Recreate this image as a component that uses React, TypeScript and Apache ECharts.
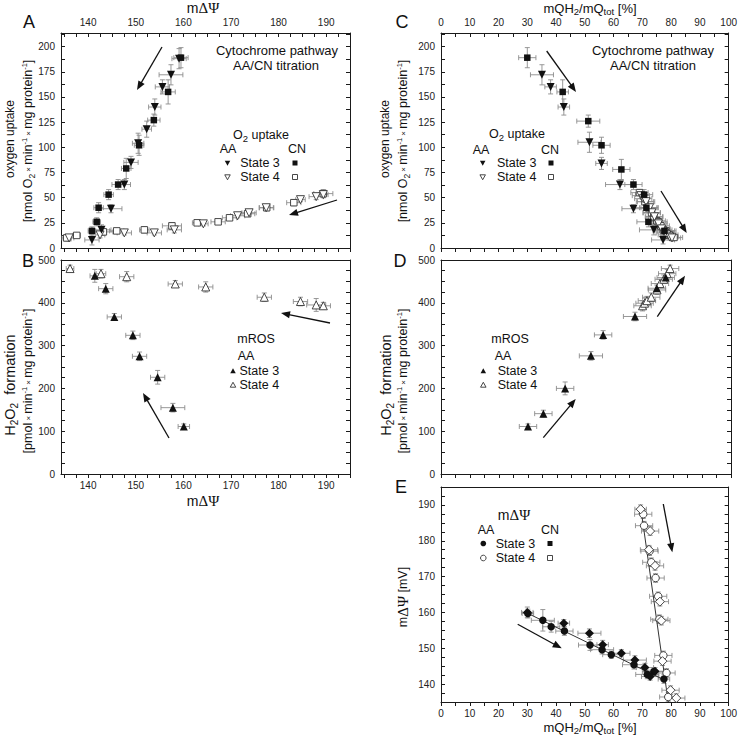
import React, { useEffect, useRef } from "react";
import * as echarts from "echarts";

const FONT = "'Liberation Sans', Arial, Helvetica, sans-serif";
const SERIF = "'Liberation Serif', 'Times New Roman', serif";

// ---------- tick labels ----------
const psiLabels = [140, 150, 160, 170, 180, 190];
const qLabels = [0, 10, 20, 30, 40, 50, 60, 70, 80, 90, 100];
const o2Labels = [0, 25, 50, 75, 100, 125, 150, 175, 200];
const h2o2Labels = [0, 100, 200, 300, 400, 500];
const psiYLabels = [140, 150, 160, 170, 180, 190];

// ---------- data: [x, y, xErr, yErr] ----------
// Panel A: mΔΨ (x) vs O2 uptake (y)
const aAA3 = [
  [159.1, 188, 1.5, 10], [157.4, 172, 2.5, 10], [155.6, 160, 1.5, 7], [154.0, 140, 1.3, 8],
  [152.3, 118, 1.0, 8], [150.5, 104, 1.2, 10], [149.0, 85, 1.5, 6], [147.6, 63, 1.3, 5],
  [144.8, 39, 2.3, 4], [142.8, 18, 2.0, 5], [140.8, 8, 1.5, 5],
];
const aCN3 = [
  [159.5, 189, 1.5, 10], [156.8, 155, 1.5, 12], [153.8, 127, 1.3, 6], [150.7, 102, 1.0, 10],
  [148.0, 79, 1.0, 10], [146.3, 63, 1.3, 5], [144.3, 53, 1.0, 5], [142.2, 40, 1.0, 5],
  [141.8, 26, 0.8, 4], [140.8, 17, 0.8, 4],
];
const aAA4 = [
  [136.0, 10, 1.0, 3], [142.5, 13, 1.0, 3], [147.6, 15, 1.5, 2], [153.9, 15, 1.5, 2],
  [158.1, 18, 1.5, 3], [164.2, 24, 1.0, 2], [171.4, 32, 1.5, 2], [173.8, 35, 1.5, 2],
  [177.4, 40, 1.5, 2], [184.6, 48, 1.0, 2], [187.9, 51, 1.5, 3], [189.4, 53, 1.0, 3],
];
const aCN4 = [
  [135.5, 10, 1.0, 3], [137.6, 12.5, 0.8, 2], [143.2, 16, 2.0, 3], [146.0, 17, 1.5, 2],
  [151.8, 18, 1.0, 3], [157.6, 22, 2.0, 3], [162.9, 25, 1.0, 2], [167.3, 26, 1.5, 2],
  [169.7, 30, 1.5, 2], [173.5, 34, 1.5, 2], [177.5, 40, 1.5, 3], [183.2, 45, 1.5, 3],
  [189.4, 54, 2.0, 4],
];
// Panel B: mΔΨ (x) vs H2O2 formation (y)
const bAA3 = [
  [141.4, 463, 1.0, 15], [143.7, 433, 1.5, 12], [145.5, 367, 1.5, 8], [149.4, 324, 1.5, 10],
  [150.8, 275, 1.5, 10], [154.6, 226, 1.5, 16], [157.8, 155, 2.5, 10], [160.1, 111, 1.2, 6],
];
const bAA4 = [
  [136.2, 480, 0.8, 8], [142.7, 468, 1.0, 10], [148.1, 461, 1.5, 12], [158.3, 444, 1.5, 8],
  [164.7, 437, 1.5, 12], [177.0, 413, 1.5, 10], [184.6, 403, 1.5, 10], [187.9, 395, 2.0, 15],
  [189.4, 393, 1.5, 8],
];
// Panel C: mQH2/mQtot (x) vs O2 uptake (y)
const cAA3 = [
  [35.1, 172, 4, 10], [38.1, 160, 2, 7], [42.7, 140, 2, 8], [51.6, 105, 4, 10],
  [55.8, 84, 2, 6], [62.2, 63, 5, 5], [66.9, 39, 4, 4], [74.0, 18, 5, 5], [77.2, 8, 4, 4],
];
const cCN3 = [
  [30.0, 189, 3, 10], [42.3, 155, 2, 12], [51.2, 126, 4, 6], [55.8, 102, 3, 8],
  [62.7, 78, 3, 10], [66.9, 63, 3, 5], [70.6, 53, 3, 5], [71.4, 40, 4, 5],
  [72.1, 26, 4, 5], [77.7, 17, 4, 4],
];
const cAA4 = [
  [69.5, 52, 3, 3], [70.3, 49, 3, 3], [71.3, 46, 3, 3], [72.5, 40, 3, 3], [73.3, 35, 3, 3],
  [74.2, 31, 3, 3], [75.6, 24, 3, 3], [76.7, 19, 3, 3], [77.8, 15, 3, 3], [78.5, 13, 3, 3],
  [79.5, 11, 3, 3], [80.3, 10, 3, 3],
];
const cCN4 = [
  [69.0, 55, 3, 3], [70.9, 46, 3, 3], [72.0, 40, 3, 3], [73.2, 35, 3, 3], [74.0, 31, 3, 3],
  [75.0, 27, 3, 3], [75.6, 26, 3, 3], [76.4, 22, 3, 3], [77.3, 18, 3, 3], [78.2, 17, 3, 3],
  [79.4, 13, 3, 3], [81.0, 10.5, 3, 3],
];
// Panel D: mQH2/mQtot (x) vs H2O2 formation (y)
const dAA3 = [
  [30.0, 111, 3, 6], [35.3, 141, 3, 8], [42.8, 200, 3, 15], [51.7, 276, 4, 10],
  [55.9, 325, 3, 10], [66.9, 368, 4, 10], [74.4, 434, 3, 10], [77.5, 459, 3, 8],
];
const dAA4 = [
  [69.5, 393, 3, 12], [70.2, 399, 3, 12], [71.0, 405, 3, 10], [72.5, 413, 3, 10],
  [74.5, 430, 3, 10], [75.5, 445, 3, 10], [76.8, 455, 3, 10], [78.0, 468, 3, 10], [79.0, 480, 3, 8],
];
// Panel E: mQH2/mQtot (x) vs mΔΨ (y)
const eAA3 = [
  [30.2, 159.7, 2, 1.2], [35.4, 157.8, 4, 3], [38.3, 156.0, 3, 1.5], [42.9, 154.8, 3, 1.2],
  [51.8, 150.9, 4, 1.5], [56.0, 149.6, 4, 1.2], [59.2, 148.2, 3, 1], [67.1, 145.4, 4, 1.2],
  [71.7, 142.7, 4, 1.2], [74.0, 143.5, 4, 1], [77.5, 141.4, 2, 1.2],
];
const eCN3 = [
  [30.0, 160.0, 2, 1.5], [42.7, 157.0, 2, 1], [51.6, 154.2, 4, 1.2], [56.2, 151.0, 2, 1.2],
  [62.7, 148.6, 3, 1], [67.4, 146.7, 4, 1.2], [70.9, 144.6, 3, 1.2], [72.7, 142.1, 3, 1],
  [74.4, 143.6, 3, 1],
];
const eAA4 = [
  [70.3, 187.4, 3, 1.2], [70.6, 184.2, 3, 1.2], [72.5, 177.1, 3, 1.2], [73.1, 174.0, 3, 1.2],
  [74.6, 169.6, 3, 1.2], [75.5, 164.5, 3, 1.2], [75.9, 158.1, 3, 1.2], [77.3, 148.0, 3, 1.2],
  [78.4, 143.1, 3, 1.2], [79.0, 136.4, 3, 1.2],
];
const eCN4 = [
  [69.4, 188.8, 2, 1.2], [72.7, 182.7, 3, 1.2], [72.3, 177.5, 3, 1.2], [74.4, 173.0, 3, 1.2],
  [76.1, 163.0, 3, 1.2], [76.6, 157.7, 3, 1.2], [77.0, 146.4, 3, 1.2], [79.8, 138.3, 3, 1.2],
  [81.8, 136.1, 3, 1.2],
];
const eFit3 = [[29.5, 160.0], [78.0, 141.0]];
const eFit4 = [[69.3, 190.0], [79.0, 135.0]];

// ---------- helpers ----------
function steps(a: number, b: number, s: number) {
  const r: number[] = [];
  for (let v = a; v <= b + 1e-9; v += s) r.push(+v.toFixed(3));
  return r;
}
const AX = "#1a1a1a";

function axis(gridIndex: number, pos: string, min: number, max: number, ticks: number[] | null,
  labels: number[] | null, inside: boolean) {
  return {
    type: "value", gridIndex, position: pos, min, max,
    axisLine: { show: true, onZero: false, lineStyle: { color: AX, width: 1 } },
    axisTick: ticks ? { show: true, inside, length: 4, customValues: ticks, lineStyle: { color: AX, width: 1 } } : { show: false },
    axisLabel: labels
      ? { show: true, customValues: labels, color: "#222", fontSize: 10, fontFamily: FONT, margin: 6 }
      : { show: false },
    splitLine: { show: false },
    minorTick: { show: false },
  };
}

function errSeries(data: number[][], idx: number) {
  return {
    type: "custom", xAxisIndex: idx, yAxisIndex: idx, data, z: 1, silent: true, clip: true,
    encode: { x: 0, y: 1 },
    renderItem: (_p: any, api: any) => {
      const x = api.value(0), y = api.value(1), ex = api.value(2), ey = api.value(3);
      const c = api.coord([x, y]);
      const l = api.coord([x - ex, y]), r = api.coord([x + ex, y]);
      const t = api.coord([x, y + ey]), b = api.coord([x, y - ey]);
      const cap = 2.5;
      const st = { stroke: "#8c8c8c", lineWidth: 0.9, fill: null };
      const ln = (x1: number, y1: number, x2: number, y2: number) => ({ type: "line", shape: { x1, y1, x2, y2 }, style: st });
      return {
        type: "group",
        children: [
          ln(l[0], c[1], r[0], c[1]), ln(l[0], c[1] - cap, l[0], c[1] + cap), ln(r[0], c[1] - cap, r[0], c[1] + cap),
          ln(c[0], t[1], c[0], b[1]), ln(c[0] - cap, t[1], c[0] + cap, t[1]), ln(c[0] - cap, b[1], c[0] + cap, b[1]),
        ],
      };
    },
  };
}

function sc(data: number[][], idx: number, symbol: string, filled: boolean, size: number, rotate = 0) {
  return {
    type: "scatter", xAxisIndex: idx, yAxisIndex: idx, z: 3, silent: true,
    data: data.map((d) => [d[0], d[1]]),
    symbol, symbolSize: size, symbolRotate: rotate,
    itemStyle: filled ? { color: "#111", opacity: 1 } : { color: "#fff", borderColor: "#333", borderWidth: 0.9, opacity: 1 },
  };
}

const RICH: any = {
  t: { fontSize: 12.5, fontFamily: FONT, fill: "#111", lineHeight: 16, verticalAlign: "middle" },
  T: { fontSize: 12, fontFamily: FONT, fill: "#111", lineHeight: 16, verticalAlign: "middle" },
  H: { fontSize: 14.5, fontFamily: FONT, fill: "#111", lineHeight: 18, verticalAlign: "middle" },
  Hs: { fontSize: 10, fontFamily: FONT, fill: "#111", lineHeight: 15, verticalAlign: "bottom" },
  q: { fontSize: 13, fontFamily: FONT, fill: "#111", lineHeight: 16, verticalAlign: "middle" },
  sub: { fontSize: 8.5, fontFamily: FONT, fill: "#111", lineHeight: 13, verticalAlign: "bottom" },
  sup: { fontSize: 7.5, fontFamily: FONT, fill: "#111", lineHeight: 13, verticalAlign: "top" },
  x: { fontSize: 8, fontFamily: FONT, fill: "#111", lineHeight: 16, verticalAlign: "middle" },
  m: { fontSize: 14, fontFamily: FONT, fill: "#111", lineHeight: 17, verticalAlign: "middle" },
  g: { fontSize: 15, fontFamily: SERIF, fill: "#111", lineHeight: 17, verticalAlign: "middle" },
  sm: { fontSize: 9.5, fontFamily: FONT, fill: "#111", lineHeight: 14, verticalAlign: "bottom" },
};

function txt(x: number, y: number, text: string, size = 12.5, rot = 0, align = "center") {
  return {
    type: "text", x, y, rotation: rot, z: 20, silent: true,
    style: { text, font: `${size}px ${FONT}`, fill: "#111", align, verticalAlign: "middle" },
  };
}
function rtxt(x: number, y: number, text: string, rot = 0) {
  return {
    type: "text", x, y, rotation: rot, z: 20, silent: true,
    style: { text, rich: RICH, fill: "#111", font: `12.5px ${FONT}`, align: "center", verticalAlign: "middle" },
  };
}
function arrow(x1: number, y1: number, x2: number, y2: number) {
  const dx = x2 - x1, dy = y2 - y1, L = Math.hypot(dx, dy), ux = dx / L, uy = dy / L;
  const hl = 9, hw = 3.6;
  const bx = x2 - ux * hl, by = y2 - uy * hl;
  return [
    { type: "line", z: 20, silent: true, shape: { x1, y1, x2: bx + ux, y2: by + uy }, style: { stroke: "#111", lineWidth: 1.3 } },
    { type: "polygon", z: 20, silent: true, shape: { points: [[x2, y2], [bx - uy * hw, by + ux * hw], [bx + uy * hw, by - ux * hw]] }, style: { fill: "#111" } },
  ];
}
function mk(kind: string, x: number, y: number, filled: boolean) {
  const st = filled ? { fill: "#111" } : { fill: "#fff", stroke: "#333", lineWidth: 0.9 };
  const s = 5.5;
  if (kind === "down") return { type: "polygon", z: 20, silent: true, shape: { points: [[x - s / 2, y - s * 0.4], [x + s / 2, y - s * 0.4], [x, y + s * 0.5]] }, style: st };
  if (kind === "up") return { type: "polygon", z: 20, silent: true, shape: { points: [[x - s / 2, y + s * 0.4], [x + s / 2, y + s * 0.4], [x, y - s * 0.5]] }, style: st };
  if (kind === "sq") return { type: "rect", z: 20, silent: true, shape: { x: x - 2.5, y: y - 2.5, width: 5, height: 5 }, style: st };
  return { type: "circle", z: 20, silent: true, shape: { cx: x, cy: y, r: 2.8 }, style: st };
}

const PSI = "{m|m}{g|ΔΨ}";
const QAX = "{q|mQH}{sm|2}{q|/mQ}{sm|tot}{q| [%]}";
const O2UNIT = "{t|[nmol O}{sub|2}{x| × }{t|min}{sup|-1}{x| × }{t|mg protein}{sup|-1}{t|]}";
const H2UNIT = "{t|[pmol}{x| × }{t|min}{sup|-1}{x| × }{t|mg protein}{sup|-1}{t|]}";
const H2T = "{H|H}{Hs|2}{H|O}{Hs|2}{H|  formation}";
const O2LEG = "{t|O}{sm|2}{t| uptake}";

export default function App() {
  const ref = useRef<HTMLDivElement>(null);
  useEffect(() => {
    if (!ref.current) return;
    const chart = echarts.init(ref.current, null, { renderer: "svg" });

    const psiTicks = steps(135, 195, 2.5);
    const qTicks = steps(0, 100, 5);
    const o2Ticks = steps(0, 212.5, 12.5);
    const h2Ticks = steps(0, 500, 25);
    const psiYTicks = steps(135, 195, 2.5);

    const grids = [
      { left: 61, top: 33, width: 289, height: 215 },
      { left: 61, top: 260, width: 289, height: 214 },
      { left: 441, top: 33, width: 290, height: 215 },
      { left: 441, top: 260, width: 290, height: 214 },
      { left: 441, top: 487, width: 290, height: 215 },
    ];
    const PMIN = 134.3, PMAX = 195.0;
    const xAxis = [
      axis(0, "bottom", PMIN, PMAX, psiTicks, null, false), axis(0, "top", PMIN, PMAX, psiTicks, psiLabels, true),
      axis(1, "bottom", PMIN, PMAX, psiTicks, psiLabels, false), axis(1, "top", PMIN, PMAX, null, null, true),
      axis(2, "bottom", 0, 100, qTicks, null, false), axis(2, "top", 0, 100, qTicks, qLabels, true),
      axis(3, "bottom", 0, 100, qTicks, null, false), axis(3, "top", 0, 100, null, null, true),
      axis(4, "bottom", 0, 100, qTicks, qLabels, false), axis(4, "top", 0, 100, null, null, true),
    ];
    const yAxis = [
      axis(0, "left", 0, 213.5, o2Ticks, o2Labels, true), axis(0, "right", 0, 213.5, o2Ticks, null, true),
      axis(1, "left", 0, 500, h2Ticks, h2o2Labels, true), axis(1, "right", 0, 500, h2Ticks, null, true),
      axis(2, "left", 0, 213.5, o2Ticks, o2Labels, true), axis(2, "right", 0, 213.5, o2Ticks, null, true),
      axis(3, "left", 0, 500, h2Ticks, h2o2Labels, true), axis(3, "right", 0, 500, h2Ticks, null, true),
      axis(4, "left", 135, 195, psiYTicks, psiYLabels, true), axis(4, "right", 135, 195, psiYTicks, null, true),
    ];
    const series: any[] = [
      errSeries(aCN4, 0), errSeries(aAA4, 0), errSeries(aCN3, 0), errSeries(aAA3, 0),
      sc(aCN4, 0, "rect", false, 6.5), sc(aAA4, 0, "triangle", false, 8, 180),
      sc(aCN3, 0, "rect", true, 6.5), sc(aAA3, 0, "triangle", true, 8, 180),

      errSeries(bAA4, 2), errSeries(bAA3, 2),
      sc(bAA4, 2, "triangle", false, 8), sc(bAA3, 2, "triangle", true, 8),

      errSeries(cCN4, 4), errSeries(cAA4, 4), errSeries(cCN3, 4), errSeries(cAA3, 4),
      sc(cCN4, 4, "rect", false, 6.5), sc(cAA4, 4, "triangle", false, 8, 180),
      sc(cCN3, 4, "rect", true, 6.5), sc(cAA3, 4, "triangle", true, 8, 180),

      errSeries(dAA4, 6), errSeries(dAA3, 6),
      sc(dAA4, 6, "triangle", false, 8), sc(dAA3, 6, "triangle", true, 8),

      errSeries(eAA4, 8), errSeries(eCN4, 8), errSeries(eAA3, 8), errSeries(eCN3, 8),
      { type: "line", xAxisIndex: 8, yAxisIndex: 8, data: eFit3, symbol: "none", z: 2, silent: true, lineStyle: { color: "#333", width: 1 } },
      { type: "line", xAxisIndex: 8, yAxisIndex: 8, data: eFit4, symbol: "none", z: 2, silent: true, lineStyle: { color: "#333", width: 1 } },
      sc(eAA4, 8, "circle", false, 7.5), sc(eCN4, 8, "diamond", false, 9),
      sc(eAA3, 8, "circle", true, 7.5), sc(eCN3, 8, "diamond", true, 9),
    ];

    const HALF = Math.PI / 2;
    const graphic: any[] = [
      // panel letters
      txt(29, 22, "A", 18), txt(28, 261, "B", 18), txt(402, 22, "C", 18), txt(400, 261, "D", 18), txt(401, 487, "E", 18),
      // axis titles
      rtxt(203, 8, PSI), rtxt(590, 8, QAX), rtxt(203, 501, PSI), rtxt(590, 727, QAX),
      rtxt(10, 139, "{T|oxygen uptake}", HALF), rtxt(28, 141, O2UNIT, HALF),
      rtxt(385, 139, "{T|oxygen uptake}", HALF), rtxt(403, 141, O2UNIT, HALF),
      rtxt(10, 385, H2T, HALF), rtxt(28, 381, H2UNIT, HALF),
      rtxt(386, 385, H2T, HALF), rtxt(403, 381, H2UNIT, HALF),
      rtxt(403, 597, "{t|m}{g|ΔΨ}{t| [mV]}", HALF),
      // panel A legend
      txt(277, 50, "Cytochrome pathway", 13), txt(276, 65, "AA/CN titration", 13),
      rtxt(261, 135, O2LEG), txt(228, 149, "AA"), txt(297, 149, "CN"),
      mk("down", 227.5, 163, true), txt(260, 163, "State 3"), mk("sq", 295, 163, true),
      mk("down", 227.5, 177, false), txt(260, 177, "State 4"), mk("sq", 295, 177, false),
      // panel C legend
      txt(653, 50, "Cytochrome pathway", 13), txt(653, 65, "AA/CN titration", 13),
      rtxt(517, 134, O2LEG), txt(481, 150, "AA"), txt(550, 150, "CN"),
      mk("down", 482.7, 163, true), txt(516.7, 163, "State 3"), mk("sq", 551, 163, true),
      mk("down", 482.7, 177, false), txt(516.7, 177, "State 4"), mk("sq", 551, 177, false),
      // panel B legend
      txt(256, 339, "mROS"), txt(246, 356, "AA"),
      mk("up", 233, 371, true), txt(239.5, 371, "State 3", 12.5, 0, "left"),
      mk("up", 233, 385, false), txt(239.5, 385, "State 4", 12.5, 0, "left"),
      // panel D legend
      txt(510, 339, "mROS"), txt(503, 356, "AA"),
      mk("up", 483.3, 371, true), txt(497.7, 371, "State 3", 12.5, 0, "left"),
      mk("up", 483.3, 385, false), txt(497.7, 385, "State 4", 12.5, 0, "left"),
      // panel E legend
      rtxt(514, 515, PSI), txt(486, 530, "AA"), txt(550, 530, "CN"),
      mk("c", 483.3, 543.5, true), txt(515.5, 543.5, "State 3"), mk("sq", 550, 543.5, true),
      mk("c", 483.3, 558, false), txt(515.5, 558, "State 4"), mk("sq", 550, 558, false),
      // arrows
      ...arrow(162, 47, 137, 90), ...arrow(337, 200, 289, 215),
      ...arrow(169, 438, 143, 393), ...arrow(330, 323, 281, 313),
      ...arrow(546.7, 51, 576, 92), ...arrow(661, 191, 686.7, 233),
      ...arrow(543.3, 437.7, 575.7, 399), ...arrow(657.3, 316.7, 685, 275.7),
      ...arrow(517.7, 624.3, 561.7, 648.3), ...arrow(663.3, 504, 672.3, 552.3),
    ];

    chart.setOption({
      animation: false,
      backgroundColor: "#fff",
      textStyle: { fontFamily: FONT },
      grid: grids,
      xAxis,
      yAxis,
      series,
      graphic,
    });
    return () => chart.dispose();
  }, []);
  return <div ref={ref} style={{ position: "absolute", left: 0, top: 0, width: 740, height: 736 }} />;
}
